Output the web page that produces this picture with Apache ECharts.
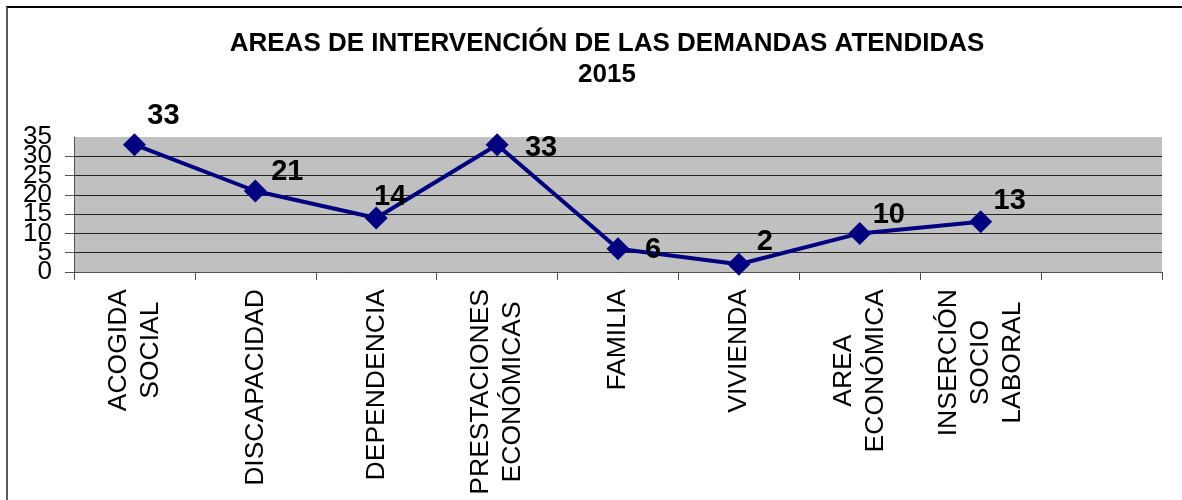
<!DOCTYPE html>
<html>
<head>
<meta charset="utf-8">
<title>Areas de intervención 2015</title>
<script src="https://cdn.jsdelivr.net/npm/echarts@6/dist/echarts.min.js"></script>
<style>
    html, body { margin: 0; padding: 0; background: #fff; }
    #wrap { position: relative; width: 1182px; height: 500px; overflow: hidden; }
    #chart { width: 1182px; height: 500px; }
    /* partial frame of the original sheet */
    #frame {
        position: absolute; left: 6px; top: 6px; right: -10px; bottom: -10px;
        border-top: 2px solid #000; border-left: 2px solid #5a5a5a;
        pointer-events: none;
    }
</style>
</head>
<body>
<div id="wrap">
    <div id="chart"></div>
    <div id="frame"></div>
</div>
<script>
// Chart data
const titleLines = ['AREAS DE INTERVENCIÓN DE LAS DEMANDAS ATENDIDAS', '2015'];
const categories = [
    'ACOGIDA\nSOCIAL',
    'DISCAPACIDAD',
    'DEPENDENCIA',
    'PRESTACIONES\nECONÓMICAS',
    'FAMILIA',
    'VIVIENDA',
    'AREA\nECONÓMICA',
    'INSERCIÓN\nSOCIO\nLABORAL',
    ''
];
const demandas = [33, 21, 14, 33, 6, 2, 10, 13];
const yTicks = [0, 5, 10, 15, 20, 25, 30, 35];

// label placement, as in the original sheet (dx, dy from the marker)
const labelOffsets = [[29, -29], [32, -19], [14, -21], [44, 3], [35, 1], [26, -22], [29, -18], [29, -21]];

const FONT = "'Liberation Sans', Arial, sans-serif";
const yMin = yTicks[0];
const yMax = yTicks[yTicks.length - 1];
const yStep = yTicks[1] - yTicks[0];

const chart = echarts.init(document.getElementById('chart'));

// The tick labels overlap each other in the original; ECharts would drop some,
// so they are split over two stacked axes (even / odd ticks).
const yLabelBase = {
    margin: 22,
    hideOverlap: false,
    color: '#000',
    fontFamily: FONT,
    fontSize: 26
};

const option = {
    animation: false,
    backgroundColor: '#fff',
    title: {
        text: titleLines.join('\n'),
        left: 602,
        top: 23,
        textAlign: 'center',
        textStyle: {
            fontFamily: FONT,
            fontSize: 26,
            fontWeight: 'bold',
            lineHeight: 31,
            color: '#000'
        }
    },
    grid: {
        left: 74,
        right: 20,
        top: 137,
        bottom: 228,
        show: true,
        backgroundColor: '#c0c0c0',
        borderWidth: 0,
        containLabel: false,
        outerBoundsMode: 'none'
    },
    xAxis: {
        type: 'category',
        data: categories,
        boundaryGap: true,
        axisLine: { show: true, lineStyle: { color: '#505050', width: 1 } },
        axisTick: { show: true, length: 8, alignWithLabel: false, lineStyle: { color: '#505050' } },
        splitLine: { show: false },
        axisLabel: {
            interval: 0,
            rotate: 90,
            margin: 17,
            hideOverlap: false,
            color: '#000',
            fontFamily: FONT,
            fontSize: 26,
            formatter: (v) => v ? v.split('\n').map(l => '{c|' + l + '}').join('\n') : '',
            rich: {
                c: { fontFamily: FONT, fontSize: 26.5, lineHeight: 32, align: 'center', color: '#000' }
            }
        }
    },
    yAxis: [
        {
            type: 'value',
            position: 'left',
            min: yMin,
            max: yMax,
            interval: yStep,
            axisLine: { show: true, lineStyle: { color: '#505050', width: 1 } },
            axisTick: { show: true, length: 9, lineStyle: { color: '#505050' } },
            splitLine: { show: true, showMaxLine: false, lineStyle: { color: '#202020', width: 1 } },
            axisLabel: Object.assign({}, yLabelBase, {
                showMinLabel: true,
                showMaxLabel: false,
                formatter: (v) => (v % (2 * yStep) === 0 ? String(v) : '')
            })
        },
        {
            type: 'value',
            position: 'left',
            offset: 0,
            min: yMin,
            max: yMax,
            interval: yStep,
            axisLine: { show: false },
            axisTick: { show: false },
            splitLine: { show: false },
            axisLabel: Object.assign({}, yLabelBase, {
                showMinLabel: false,
                showMaxLabel: true,
                formatter: (v) => (v % (2 * yStep) !== 0 ? String(v) : '')
            })
        }
    ],
    series: [{
        type: 'line',
        yAxisIndex: 0,
        data: demandas.map((v, i) => ({
            value: v,
            label: { offset: labelOffsets[i] }
        })),
        clip: false,
        symbol: 'diamond',
        symbolSize: 23,
        lineStyle: { color: '#000080', width: 4 },
        itemStyle: { color: '#000080' },
        label: {
            show: true,
            position: 'inside',
            color: '#000',
            fontFamily: FONT,
            fontSize: 29,
            fontWeight: 'bold'
        },
        z: 3
    }]
};

chart.setOption(option);
</script>
</body>
</html>
